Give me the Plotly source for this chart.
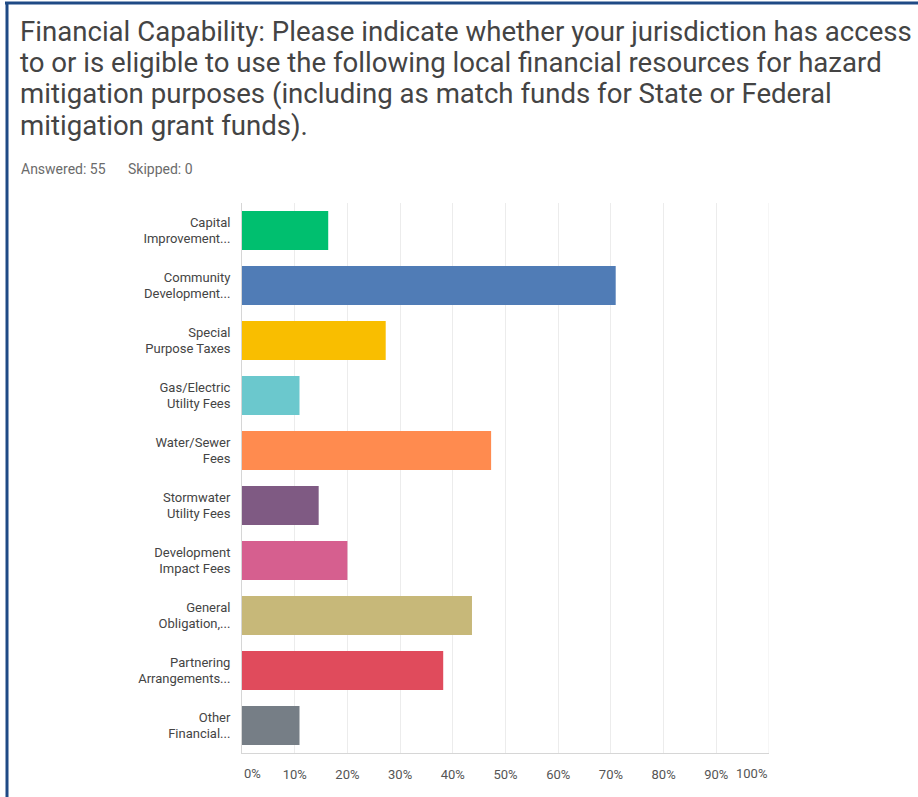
import plotly.graph_objects as go

# Survey question (one entry per printed line) and response counts
question_lines = [
    "Financial Capability: Please indicate whether your jurisdiction has access",
    "to or is eligible to use the following local financial resources for hazard",
    "mitigation purposes (including as match funds for State or Federal",
    "mitigation grant funds).",
]
answered = 55
skipped = 0

categories = [
    "Capital<br>Improvement...",
    "Community<br>Development...",
    "Special<br>Purpose Taxes",
    "Gas/Electric<br>Utility Fees",
    "Water/Sewer<br>Fees",
    "Stormwater<br>Utility Fees",
    "Development<br>Impact Fees",
    "General<br>Obligation,...",
    "Partnering<br>Arrangements...",
    "Other<br>Financial...",
]
percent = [16.36, 70.91, 27.27, 10.91, 47.27, 14.55, 20.00, 43.64, 38.18, 10.91]
bar_colors = ["#00BF6F", "#507CB6", "#F9BE00", "#6BC8CD", "#FF8B4F",
              "#7F5A83", "#D65F8F", "#C7B879", "#E04B5C", "#767E86"]
tick_values = [0, 10, 20, 30, 40, 50, 60, 70, 80, 90, 100]
tick_labels = ["0%", "10%", "20%", "30%", "40%", "50%", "60%", "70%", "80%", "90%", "100%"]

W, H = 918, 797
ML, MR, MT, MB = 242, 149, 203, 44
PW, PH = W - ML - MR, H - MT - MB


def px_x(x):
    return (x - ML) / PW


def px_y(y):
    return (H - MB - y) / PH


font_family = "Roboto, 'Open Sans', sans-serif"

fig = go.Figure(go.Bar(
    x=percent,
    y=categories,
    orientation="h",
    marker=dict(color=bar_colors, line=dict(width=0)),
    hoverinfo="x+y",
))

annotations = []

# Question text, one line per annotation
title_centers = [31, 62.5, 94, 125.5]
for line, cy in zip(question_lines, title_centers):
    annotations.append(dict(
        xref="paper", yref="paper", x=px_x(18), y=px_y(cy),
        text=line, showarrow=False, xanchor="left", yanchor="middle",
        font=dict(size=27.6, color="#444444", family=font_family)))

annotations += [
    dict(xref="paper", yref="paper", x=px_x(19), y=px_y(169),
         text=f"Answered: {answered}", showarrow=False, xanchor="left", yanchor="middle",
         font=dict(size=14, color="#6b6b6b", family=font_family)),
    dict(xref="paper", yref="paper", x=px_x(126), y=px_y(169),
         text=f"Skipped: {skipped}", showarrow=False, xanchor="left", yanchor="middle",
         font=dict(size=14, color="#6b6b6b", family=font_family)),
    # end tick labels sit inside the plot width
    dict(xref="x", yref="paper", x=tick_values[0], y=0, yshift=-20,
         text=tick_labels[0], showarrow=False, xanchor="left", yanchor="middle",
         font=dict(size=13, color="#555555", family=font_family)),
    dict(xref="x", yref="paper", x=tick_values[-1], y=0, yshift=-20,
         text=tick_labels[-1], showarrow=False, xanchor="right", yanchor="middle",
         font=dict(size=13, color="#555555", family=font_family)),
]

border = "#1F4A85"
shapes = [
    dict(type="line", xref="paper", yref="paper", x0=px_x(5), x1=px_x(918),
         y0=px_y(3), y1=px_y(3), line=dict(color=border, width=3)),
    dict(type="line", xref="paper", yref="paper", x0=px_x(7), x1=px_x(7),
         y0=px_y(2), y1=px_y(797), line=dict(color=border, width=3)),
]

fig.update_layout(
    width=W, height=H,
    margin=dict(l=ML, r=MR, t=MT, b=MB, pad=0),
    paper_bgcolor="white", plot_bgcolor="white",
    showlegend=False,
    bargap=0.29,
    annotations=annotations,
    shapes=shapes,
    font=dict(family=font_family),
)

fig.update_xaxes(
    range=[0, 100],
    tickvals=tick_values[1:-1],
    ticktext=tick_labels[1:-1],
    showgrid=True, gridcolor="#ececec", gridwidth=1,
    zeroline=False,
    showline=True, linecolor="#d6d6d6", linewidth=1,
    ticks="", ticklabelstandoff=9,
    tickfont=dict(size=13, color="#555555", family=font_family),
    fixedrange=True,
)
fig.update_yaxes(
    autorange="reversed",
    showline=True, linecolor="#d6d6d6", linewidth=1,
    showgrid=False,
    ticks="", ticklabelstandoff=8,
    tickfont=dict(size=13, color="#444444", family=font_family),
    fixedrange=True,
)

# The grid line at 100% closes the right edge of the plot area
fig.add_vline(x=100, line=dict(color="#ececec", width=1))

fig.write_html("out.html")
